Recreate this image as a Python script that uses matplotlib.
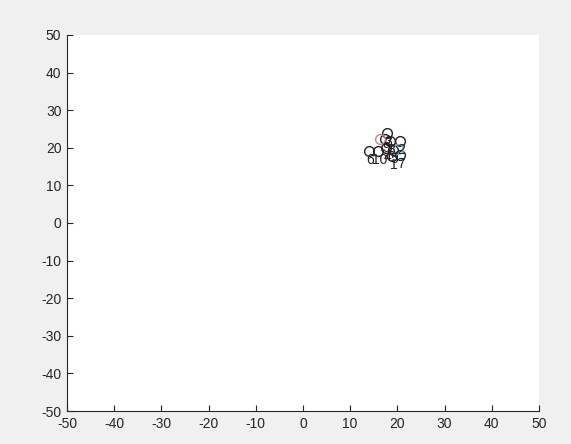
import matplotlib.pyplot as plt

plt.rcParams['font.family'] = ['Liberation Sans', 'DejaVu Sans']
plt.rcParams['axes.unicode_minus'] = False

# cluster points and their labels
xs = [18.9, 20.6, 17.8, 17.6, 19.1, 14.0, 20.6, 18.4, 17.3, 15.9]
ys = [17.8, 21.8, 23.9, 20.0, 19.4, 19.1, 18.0, 21.8, 22.3, 19.1]
labels = ['1', '2', '3', '4', '5', '6', '7', '8', '9', '10']

red_pt = (16.3, 22.3)
cyan_pt = (20.1, 19.6)

ticks = [-50, -40, -30, -20, -10, 0, 10, 20, 30, 40, 50]

fig = plt.figure(figsize=(5.71, 4.44), dpi=100, facecolor='#f0f0f0')
ax = fig.add_axes([0.1173, 0.0743, 0.8266, 0.8469])

ax.plot(xs, ys, 'o', mfc='none', mec='#222222', ms=7, mew=1.0)
ax.plot(*red_pt, 'o', mfc='none', mec='#d08080', ms=7, mew=1.0)
ax.plot(*cyan_pt, 'o', mfc='none', mec='#7ab8d0', ms=7, mew=1.0)
for x, y, s in zip(xs, ys, labels):
    ax.text(x + 0.3, y - 2.4, s, fontsize=10, color='#222222', ha='center', va='center')

ax.set_xlim(-50, 50)
ax.set_ylim(-50, 50)
ax.set_xticks(ticks)
ax.set_yticks(ticks)
ax.spines['top'].set_visible(False)
ax.spines['right'].set_visible(False)
for sp in ['left', 'bottom']:
    ax.spines[sp].set_color('#262626')
    ax.spines[sp].set_linewidth(0.8)
ax.tick_params(direction='in', length=4, width=0.8, colors='#262626', labelsize=10, pad=4)

fig.savefig('out.png', dpi=100, facecolor=fig.get_facecolor())
